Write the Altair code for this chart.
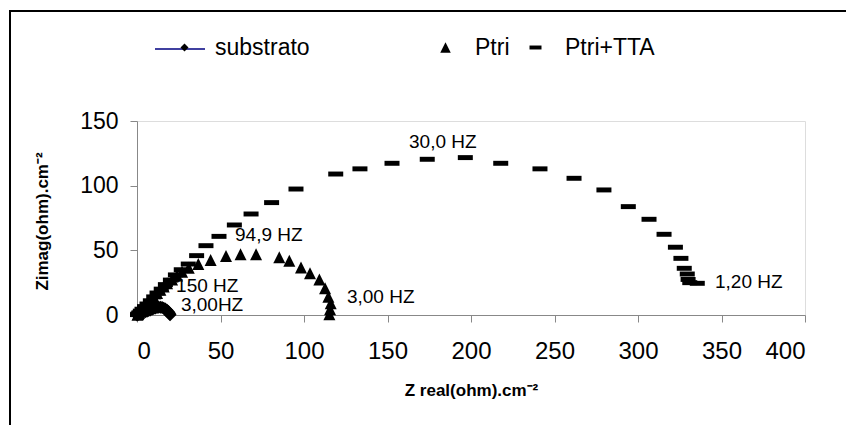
import altair as alt
import pandas as pd

# ---- data ----
sub_x = [0, 0.3, 0.6, 1, 1.5, 2, 3, 4, 5, 6, 7, 8, 9, 10, 11, 12, 13, 14, 15, 16, 17, 18, 18.8, 19.3, 19.6, 19.8]
sub_y = [0, 0.3, 0.6, 1, 1.3, 1.5, 2, 2.3, 2.6, 3, 3.4, 3.9, 4.4, 5, 5.4, 5.8, 6, 6, 5.8, 5.3, 4.6, 3.6, 2.6, 1.6, 0.8, 0.2]

ptri_x = [0.3, 0.7, 1.2, 2, 3, 4, 5, 6.5, 8, 10, 12, 14, 16, 18, 21, 24, 27, 31, 36.7, 44.1, 53.3, 62, 71.3,
          85.2, 91.2, 98.2, 103.6, 109.2, 112.6, 114.6, 116, 115.6, 115.2]
ptri_y = [0.2, 0.8, 1.6, 3, 4.5, 6, 7.5, 9.5, 11.5, 14, 17, 19.5, 22, 24.5, 27.5, 30.5, 33.5, 36.5, 39.4, 42.5, 45.6,
          46.9, 46.9, 44.6, 42, 36.8, 32.2, 27.5, 20.6, 14.2, 9, 4.4, 0.5]

tta_x = [0.3, 0.7, 1.2, 2, 3, 4.5, 6, 8, 10, 12, 14.5, 17, 20, 23, 26.5, 30.7, 35.7, 41.3, 49.1, 58.3, 68.3, 80.6,
         95.2, 119, 133.5, 152.7, 173.8, 196.6, 217.8, 241.3, 261.7, 279.6, 294.2, 306.6, 315.6, 322.4, 325.7,
         327.7, 329.5, 330, 331, 335.5]
tta_y = [0.3, 0.9, 1.7, 3, 4.5, 6.5, 8.5, 11, 14, 17, 20, 23.5, 27, 31, 35, 39.4, 45.9, 53.6, 60.8, 69.6, 78.1,
         86.9, 97.4, 109, 113, 117.3, 120.4, 121.7, 117.3, 113, 105.7, 96.7, 83.8, 74.0, 62.4, 52.4, 43.8,
         36.1, 31.7, 27.5, 25, 24.5]

ann_text = ["30,0 HZ", "94,9 HZ", "150 HZ", "3,00HZ", "3,00 HZ", "1,20 HZ"]
ann_x = [162.9, 58.7, 23.4, 26.3, 125.7, 346.1]
ann_y = [134.0, 61.9, 22.4, 7.7, 13.9, 25.5]

x_ticks = [0, 50, 100, 150, 200, 250, 300, 350, 400]
y_ticks = [0, 50, 100, 150]

series_names = ["substrato", "Ptri", "Ptri+TTA"]

# ---- tables ----
sub_df = pd.DataFrame({"x": sub_x, "y": sub_y, "i": range(len(sub_x)), "series": series_names[0]})
ptri_df = pd.DataFrame({"x": ptri_x, "y": ptri_y, "series": series_names[1]})
tta_df = pd.DataFrame({"x": tta_x, "y": tta_y, "series": series_names[2]})
ann_df = pd.DataFrame({"x": ann_x, "y": ann_y, "t": ann_text})

FONT = "Liberation Sans"
DIAMOND = "M0,-1L1,0L0,1L-1,0Z"
LEG_DIAMOND = "M0,-1.2L0.85,0L0,1.2L-0.85,0Z"
TRIANGLE = "M0,-1L1,1L-1,1Z"
DASH = "M-1,-0.33L1,-0.33L1,0.33L-1,0.33Z"

xs = alt.Scale(domain=[0, 400], nice=False, zero=False)
ys = alt.Scale(domain=[0, 150], nice=False, zero=False)

X = alt.X("x:Q", scale=xs, axis=alt.Axis(
    values=x_ticks, title="Z real(ohm).cm⁻²", grid=False,
    labelFontSize=24, labelFont=FONT, labelPadding=17, tickSize=7,
    titleFont=FONT, titleFontSize=17, titleFontWeight="bold",
    titleX=334, titleY=75, titleBaseline="middle", titleAlign="center"))
Y = alt.Y("y:Q", scale=ys, axis=alt.Axis(
    values=y_ticks, title="Zimag(ohm).cm⁻²", grid=False,
    labelFontSize=23, labelFont=FONT, labelPadding=12, tickSize=7,
    titleFont=FONT, titleFontSize=17, titleFontWeight="bold",
    titleX=-95, titleY=100, titleAngle=270, titleBaseline="middle", titleAlign="center"))

LEG_Y = -85


def sym_legend(lx, size, stype=None, offset=18):
    kw = dict(orient="none", legendX=lx, legendY=LEG_Y, title=None, padding=0,
              labelFont=FONT, labelFontSize=23, labelColor="black", labelOffset=offset,
              symbolSize=size, symbolFillColor="black", symbolStrokeWidth=0, symbolOpacity=1)
    if stype:
        kw["symbolType"] = stype
    return alt.Legend(**kw)


# navy connecting line of substrato; its legend shows only the line (no label)
sub_line = alt.Chart(sub_df).mark_line(strokeWidth=1).encode(
    x=X, y=Y, order="i:Q",
    stroke=alt.Stroke("series:N", scale=alt.Scale(range=["#000080"]),
                      legend=alt.Legend(orient="none", legendX=17, legendY=LEG_Y - 13, title=None, padding=0,
                                        symbolType="stroke", symbolSize=2500, symbolStrokeWidth=1.5,
                                        labelExpr="''", labelFontSize=23, labelOffset=0)))
sub_pts = alt.Chart(sub_df).mark_point(filled=True, color="black", size=170, opacity=1).encode(
    x=X, y=Y,
    shape=alt.Shape("series:N", scale=alt.Scale(range=[DIAMOND]),
                    legend=sym_legend(36, 64, LEG_DIAMOND, 19)))
ptri_pts = alt.Chart(ptri_df).mark_point(filled=True, color="black", size=144, opacity=1).encode(
    x=X, y=Y,
    shape=alt.Shape("series:N", scale=alt.Scale(range=[TRIANGLE]), legend=sym_legend(297, 110)))
tta_pts = alt.Chart(tta_df).mark_point(filled=True, color="black", size=225, opacity=1).encode(
    x=X, y=Y,
    shape=alt.Shape("series:N", scale=alt.Scale(range=[DASH]), legend=sym_legend(387, 144)))

ann = alt.Chart(ann_df).mark_text(align="left", baseline="middle", font=FONT, fontSize=19,
                                  color="black").encode(x=X, y=Y, text="t:N")

frame_df = alt.Data(values=[{}])
frame_left = alt.Chart(frame_df).mark_rule(color="black", strokeWidth=2).encode(
    x=alt.value(-127), y=alt.value(-111), y2=alt.value(320))
frame_top = alt.Chart(frame_df).mark_rule(color="black", strokeWidth=2).encode(
    x=alt.value(-128), x2=alt.value(720), y=alt.value(-110))

chart = alt.layer(sub_line, sub_pts, ptri_pts, tta_pts, ann, frame_left, frame_top).resolve_scale(
    shape="independent", stroke="independent").resolve_legend(shape="independent", stroke="independent").properties(
    width=668, height=194,
    autosize=alt.AutoSizeParams(type="none"),
    padding={"left": 129, "top": 113, "right": 41, "bottom": 110},
).configure_view(stroke=None).configure_axis(
    domainColor="black", tickColor="black", labelColor="black", titleColor="black", domainWidth=1
).configure(background="white")

chart.save("out.html", embed_options={"renderer": "svg", "actions": False})
